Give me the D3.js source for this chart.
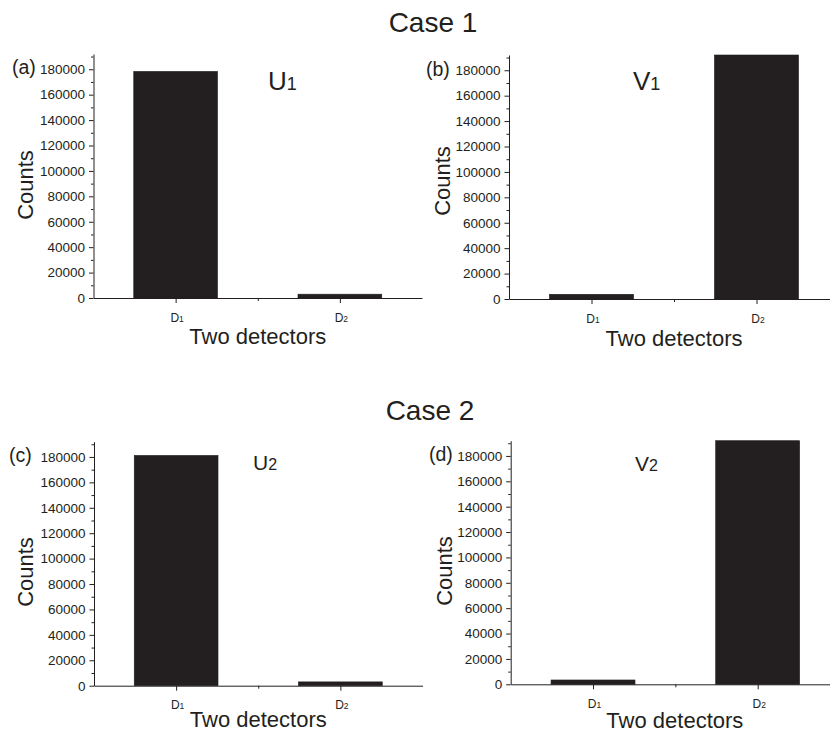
<!DOCTYPE html>
<html lang="en">
	<head>
		<meta charset="utf-8">
		<title>Two detectors</title>
		<script src="https://cdn.jsdelivr.net/npm/d3@7"></script>
		<style>
			body { margin: 0; background: #fff; }
			text { font-family: "Liberation Sans", Arial, sans-serif; fill: #231f20; }
		</style>
	</head>
	<body>
		<script>

		/*//////////////
		//   Data     //
		//////////////*/

		var detectors = ["D", "D"];
		var detectorSubs = ["1", "2"];

		var countsU1 = [178300, 3000];
		var countsV1 = [3700, 192000];
		var countsU2 = [181200, 3000];
		var countsV2 = [3400, 192000];

		var majorTicks = [0, 20000, 40000, 60000, 80000, 100000, 120000, 140000, 160000, 180000];
		var minorTicks = [10000, 30000, 50000, 70000, 90000, 110000, 130000, 150000, 170000, 190000];
		var yMax = 192000;

		var caseTitles = ["Case 1", "Case 2"];

		// Width & Height
		var w = 830;
		var h = 731;
		var ink = "#231f20";

		var svg = d3.select("body")
			.append("svg")
			.attr("width", w)
			.attr("height", h);

		// Panel layout (pixel positions only)
		var panels = [
			{ tag: "(a)", name: "U", sub: "1", values: countsU1,
			  left: 93.5, right: 422, bottom: 298, top: 54,
			  tagX: 12, tagY: 74, nameX: 268, nameY: 89.5, nameSize: 26, subSize: 18,
			  countsX: 33, countsY: 185, xlabY: 344 },
			{ tag: "(b)", name: "V", sub: "1", values: countsV1,
			  left: 509, right: 839, bottom: 299, top: 55,
			  tagX: 426, tagY: 76, nameX: 633, nameY: 90, nameSize: 26, subSize: 18,
			  countsX: 450, countsY: 181, xlabY: 346 },
			{ tag: "(c)", name: "U", sub: "2", values: countsU2,
			  left: 94, right: 422.5, bottom: 685.7, top: 441.7,
			  tagX: 9, tagY: 462, nameX: 253, nameY: 470, nameSize: 21, subSize: 16,
			  countsX: 33, countsY: 572, xlabY: 727 },
			{ tag: "(d)", name: "V", sub: "2", values: countsV2,
			  left: 510.7, right: 840, bottom: 684.3, top: 440.7,
			  tagX: 429, tagY: 461, nameX: 635, nameY: 471, nameSize: 21, subSize: 16,
			  countsX: 452, countsY: 571, xlabY: 727.5 }
		];

		/*//////////////////////
		//  Titles            //
		//////////////////////*/

		svg.append("text")
			.attr("x", 433)
			.attr("y", 32)
			.attr("text-anchor", "middle")
			.style("font-size", "28px")
			.text(caseTitles[0]);

		svg.append("text")
			.attr("x", 430)
			.attr("y", 420)
			.attr("text-anchor", "middle")
			.style("font-size", "28px")
			.text(caseTitles[1]);

		/*//////////////////////
		//  Panels            //
		//////////////////////*/

		panels.forEach(function(p) {
			var g = svg.append("g");

			var x = d3.scaleLinear()
				.domain([0.5, 2.5])
				.range([p.left, p.right]);

			var y = d3.scaleLinear()
				.domain([0, yMax])
				.range([p.bottom, p.top]);

			var barW = x(1.51) - x(1);

			// Bars
			g.selectAll("rect")
				.data(p.values)
				.enter()
				.append("rect")
				.attr("x", function(d, i) { return x(i + 1) - barW / 2; })
				.attr("y", function(d) { return y(d); })
				.attr("width", barW)
				.attr("height", function(d) { return y(0) - y(d); })
				.attr("fill", ink)
				.attr("stroke", ink)
				.attr("stroke-width", 0.6);

			// Y axis
			var yAxis = g.append("g")
				.attr("transform", "translate(" + p.left + ",0)")
				.call(d3.axisLeft(y)
					.tickValues(majorTicks)
					.tickSize(4.5)
					.tickSizeOuter(0)
					.tickPadding(4)
					.tickFormat(d3.format("d")));
			yAxis.selectAll("text")
				.style("font-size", "13.5px")
				.attr("fill", ink);

			var yMinor = g.append("g")
				.attr("transform", "translate(" + p.left + ",0)")
				.call(d3.axisLeft(y)
					.tickValues(minorTicks)
					.tickSize(2.5)
					.tickSizeOuter(0)
					.tickFormat(""));
			yMinor.select(".domain").remove();

			// X axis
			var xAxis = g.append("g")
				.attr("transform", "translate(0," + p.bottom + ")")
				.call(d3.axisBottom(x)
					.tickValues([1, 2])
					.tickSize(5)
					.tickSizeOuter(0)
					.tickFormat(""));

			g.append("g")
				.attr("transform", "translate(0," + p.bottom + ")")
				.call(d3.axisBottom(x)
					.tickValues([1.5])
					.tickSize(3)
					.tickSizeOuter(0)
					.tickFormat(""))
				.select(".domain").remove();

			g.selectAll(".domain, .tick line")
				.attr("stroke", ink)
				.attr("stroke-width", 1);

			// Detector labels with subscripts
			var dl = g.selectAll(".dlabel")
				.data(detectors)
				.enter()
				.append("text")
				.attr("class", "dlabel")
				.attr("x", function(d, i) { return x(i + 1) + 1.5; })
				.attr("y", p.bottom + 23.5)
				.attr("text-anchor", "middle")
				.style("font-size", "12px");
			dl.append("tspan").text(function(d) { return d; });
			dl.append("tspan")
				.style("font-size", "8.5px")
				.text(function(d, i) { return detectorSubs[i]; });

			// Axis titles
			g.append("text")
				.attr("x", (p.left + Math.min(p.right, 839)) / 2)
				.attr("y", p.xlabY)
				.attr("text-anchor", "middle")
				.style("font-size", "22px")
				.text("Two detectors");

			g.append("text")
				.attr("transform", "translate(" + p.countsX + "," + p.countsY + ") rotate(-90)")
				.attr("text-anchor", "middle")
				.style("font-size", "22px")
				.text("Counts");

			// Panel tag
			g.append("text")
				.attr("x", p.tagX)
				.attr("y", p.tagY)
				.style("font-size", "19.5px")
				.text(p.tag);

			// Series name
			var nm = g.append("text")
				.attr("x", p.nameX)
				.attr("y", p.nameY)
				.style("font-size", p.nameSize + "px");
			nm.append("tspan").text(p.name);
			nm.append("tspan")
				.style("font-size", p.subSize + "px")
				.text(p.sub);
		});
		</script>
	</body>
</html>
